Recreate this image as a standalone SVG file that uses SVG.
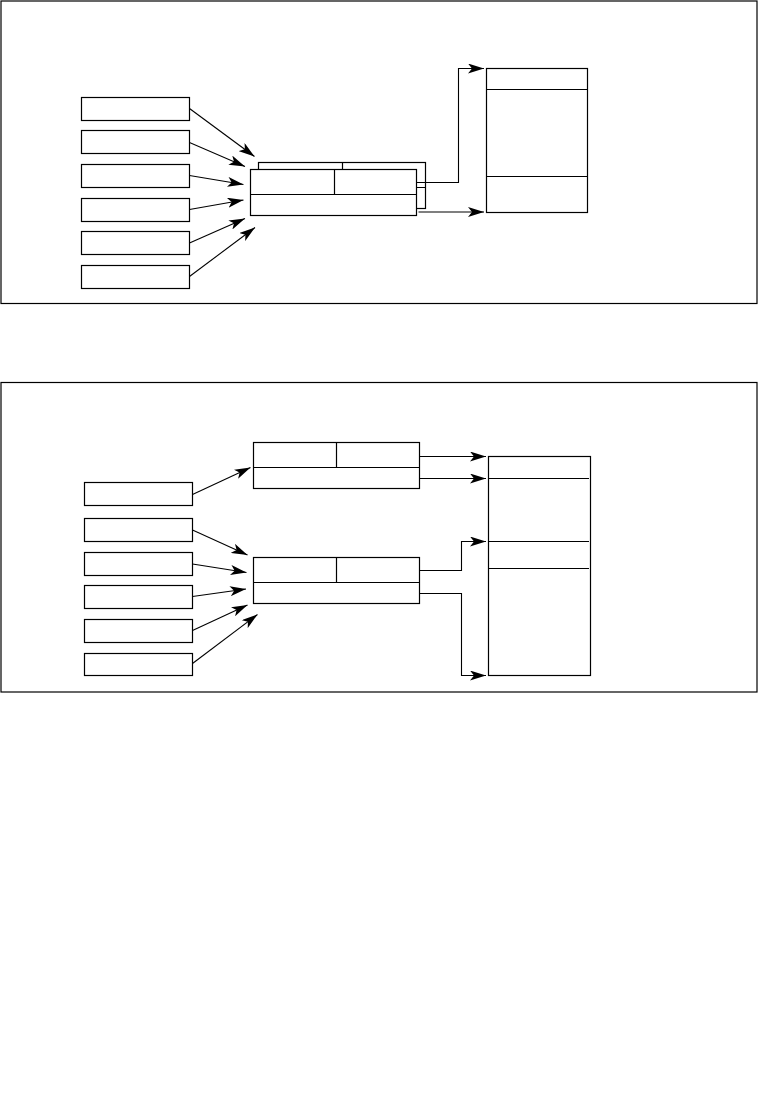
<svg xmlns="http://www.w3.org/2000/svg" width="760" height="1107" viewBox="0 0 760 1107">
<style>
.b{fill:#fff;stroke:#000;stroke-width:1.2}
.f{fill:none;stroke:#000;stroke-width:1.2}
.c{fill:none;stroke:#000;stroke-width:1.1;marker-end:url(#ah)}
</style>
<defs>
<marker id="ah" viewBox="0 0 16 10" refX="16" refY="5" markerWidth="16" markerHeight="10" markerUnits="userSpaceOnUse" orient="auto">
<path d="M0,0 L16,5 L0,10 L4,5 z" fill="#000"/>
</marker>
</defs>
<rect width="760" height="1107" fill="#fff"/>
<g id="panel1">
<rect x="1" y="1" width="756" height="302.5" class="f"/>
</g>
<g id="p1-src1"><rect x="81.5" y="97.5" width="108" height="23" class="b"/></g>
<g id="p1-src2"><rect x="81.5" y="130.5" width="108" height="23" class="b"/></g>
<g id="p1-src3"><rect x="81.5" y="164.5" width="108" height="23" class="b"/></g>
<g id="p1-src4"><rect x="81.5" y="198.5" width="108" height="23" class="b"/></g>
<g id="p1-src5"><rect x="81.5" y="231.5" width="108" height="23" class="b"/></g>
<g id="p1-src6"><rect x="81.5" y="265.5" width="108" height="23" class="b"/></g>
<g id="p1-rec-back">
<rect x="258.5" y="162.5" width="167" height="46" class="b"/>
<line x1="342.5" y1="162.5" x2="342.5" y2="187.5" class="f"/>
<line x1="258.5" y1="187.5" x2="425.5" y2="187.5" class="f"/>
</g>
<g id="p1-rec-front">
<rect x="250.5" y="169.5" width="166" height="46" class="b"/>
<line x1="334.5" y1="169.5" x2="334.5" y2="194.5" class="f"/>
<line x1="250.5" y1="194.5" x2="416.5" y2="194.5" class="f"/>
</g>
<g id="p1-table">
<rect x="486.5" y="68.5" width="101" height="144" class="b"/>
<line x1="486.5" y1="89.5" x2="587.5" y2="89.5" class="f"/>
<line x1="486.5" y1="176.5" x2="587.5" y2="176.5" class="f"/>
</g>
<g id="panel2">
<rect x="1" y="382.5" width="756" height="309.5" class="f"/>
</g>
<g id="p2-src1"><rect x="84.5" y="482.5" width="108" height="23" class="b"/></g>
<g id="p2-src2"><rect x="84.5" y="518.5" width="108" height="23" class="b"/></g>
<g id="p2-src3"><rect x="84.5" y="552.5" width="108" height="23" class="b"/></g>
<g id="p2-src4"><rect x="84.5" y="585.5" width="108" height="23" class="b"/></g>
<g id="p2-src5"><rect x="84.5" y="619.5" width="108" height="23" class="b"/></g>
<g id="p2-src6"><rect x="84.5" y="653.5" width="108" height="22" class="b"/></g>
<g id="p2-rec-top">
<rect x="253.5" y="442.5" width="166" height="46" class="b"/>
<line x1="336.5" y1="442.5" x2="336.5" y2="467.5" class="f"/>
<line x1="253.5" y1="467.5" x2="419.5" y2="467.5" class="f"/>
</g>
<g id="p2-rec-bottom">
<rect x="253.5" y="557.5" width="166" height="46" class="b"/>
<line x1="336.5" y1="557.5" x2="336.5" y2="582.5" class="f"/>
<line x1="253.5" y1="582.5" x2="419.5" y2="582.5" class="f"/>
</g>
<g id="p2-table">
<rect x="488.5" y="456.5" width="102" height="219" class="b"/>
<line x1="488.5" y1="478.5" x2="589" y2="478.5" class="f"/>
<line x1="488.5" y1="541.5" x2="589" y2="541.5" class="f"/>
<line x1="488.5" y1="568.5" x2="589" y2="568.5" class="f"/>
</g>
<g id="connectors">
<line x1="189.5" y1="108.5" x2="254.5" y2="156.5" class="c"/>
<line x1="189.5" y1="142.5" x2="245" y2="166.5" class="c"/>
<line x1="189.5" y1="175.5" x2="243.5" y2="184.5" class="c"/>
<line x1="189.5" y1="209.5" x2="243.5" y2="200" class="c"/>
<line x1="189.5" y1="243" x2="245" y2="218.5" class="c"/>
<line x1="189.5" y1="276.5" x2="255" y2="227.5" class="c"/>
<polyline points="416.5,182.5 458.5,182.5 458.5,68.5 484,68.5" class="c"/>
<line x1="418.5" y1="212" x2="484" y2="212" class="c"/>
<line x1="192.5" y1="494.5" x2="250.5" y2="467.5" class="c"/>
<line x1="192.5" y1="530" x2="247.5" y2="555" class="c"/>
<line x1="192.5" y1="564" x2="246.5" y2="572.5" class="c"/>
<line x1="192.5" y1="596.5" x2="246" y2="589" class="c"/>
<line x1="192.5" y1="630.5" x2="247.5" y2="605" class="c"/>
<line x1="192.5" y1="663.5" x2="257.5" y2="614.5" class="c"/>
<line x1="419.5" y1="456.5" x2="486" y2="456.5" class="c"/>
<line x1="419.5" y1="478.5" x2="486" y2="478.5" class="c"/>
<polyline points="419.5,570.5 461.5,570.5 461.5,541.5 486,541.5" class="c"/>
<polyline points="419.5,593.5 461.5,593.5 461.5,675.5 486,675.5" class="c"/>
</g>
</svg>
